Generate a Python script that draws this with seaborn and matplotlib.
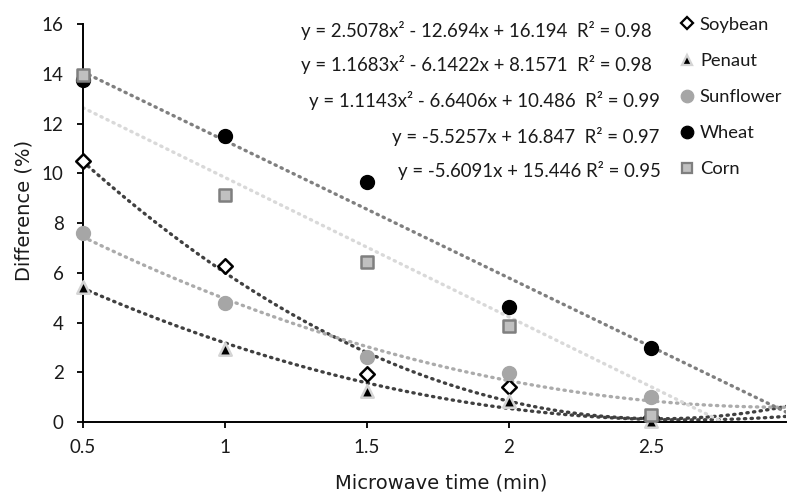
import numpy as np
import matplotlib
matplotlib.use("Agg")
import matplotlib.pyplot as plt
from matplotlib.lines import Line2D
import seaborn as sns

# ---------------------------------------------------------------------------
# Data
# ---------------------------------------------------------------------------
TIME = [0.5, 1.0, 1.5, 2.0, 2.5]
SOYBEAN = [10.5, 6.27, 1.92, 1.40, 0.20]
PENAUT = [5.45, 2.94, 1.26, 0.85, 0.05]
SUNFLOWER = [7.59, 4.77, 2.63, 1.96, 1.02]
WHEAT = [13.75, 11.52, 9.67, 4.61, 2.96]
CORN = [13.95, 9.13, 6.45, 3.86, 0.30]

# trendline coefficients as printed on the chart (highest power first)
SOYBEAN_FIT = [2.5078, -12.694, 16.194]
PENAUT_FIT = [1.1683, -6.1422, 8.1571]
SUNFLOWER_FIT = [1.1143, -6.6406, 10.486]
WHEAT_FIT = [-5.5257, 16.847]
CORN_FIT = [-5.6091, 15.446]

EQUATIONS = [
    "y = 2.5078x² - 12.694x + 16.194  R² = 0.98",
    "y = 1.1683x² - 6.1422x + 8.1571  R² = 0.98",
    "y = 1.1143x² - 6.6406x + 10.486  R² = 0.99",
    "y = -5.5257x + 16.847  R² = 0.97",
    "y = -5.6091x + 15.446 R² = 0.95",
]

X_TICKS = [0.5, 1, 1.5, 2, 2.5]
X_TICK_LABELS = ["0.5", "1", "1.5", "2", "2.5"]
Y_TICKS = [0, 2, 4, 6, 8, 10, 12, 14, 16]

sns.set_theme(style="white")
plt.rcParams["font.family"] = ["Lato", "DejaVu Sans"]

W, H = 787, 495
fig = plt.figure(figsize=(W / 100, H / 100), dpi=100)
ax = fig.add_axes([83 / W, 1 - 422 / H, (785.7 - 83) / W, (422 - 24.3) / H])

series = [
    # name, values, fit, marker, size, face, edge, edge width, legend size, line colour
    ("Soybean", SOYBEAN, SOYBEAN_FIT, "D", 55, "white", "black", 1.8, 6.5, "#404040"),
    ("Penaut", PENAUT, PENAUT_FIT, "^", 80, "black", "#d4d4d4", 1.8, 7.0, "#404040"),
    ("Sunflower", SUNFLOWER, SUNFLOWER_FIT, "o", 100, "#a6a6a6", "#a6a6a6", 1.0, 9.0, "#ababab"),
    ("Wheat", WHEAT, WHEAT_FIT, "o", 100, "black", "black", 1.0, 9.0, "#7f7f7f"),
    ("Corn", CORN, CORN_FIT, "s", 80, "#c0c0c0", "#7f7f7f", 1.8, 7.5, "#d9d9d9"),
]

x_fit = np.linspace(0.5, 3.0, 300)
for name, vals, fit, marker, size, face, edge, ew, lsz, lcol in series:
    ax.plot(x_fit, np.polyval(fit, x_fit), color=lcol, lw=2.4,
            linestyle=(0, (0.4, 1.6)), dash_capstyle="round", zorder=2)

handles = []
for name, vals, fit, marker, size, face, edge, ew, lsz, lcol in series:
    sns.scatterplot(x=TIME, y=vals, ax=ax, marker=marker, s=size,
                    color=face, edgecolor=edge, linewidth=ew, zorder=3,
                    clip_on=False)
    handles.append(Line2D([], [], linestyle="none", marker=marker,
                          markersize=lsz, markerfacecolor=face,
                          markeredgecolor=edge, markeredgewidth=ew * 0.9,
                          label=name))

ax.set_xlim(0.5, 2.975)
ax.set_ylim(0, 16)
ax.set_xticks(X_TICKS)
ax.set_xticklabels(X_TICK_LABELS)
ax.set_yticks(Y_TICKS)
ax.tick_params(axis="both", direction="out", length=4.5, width=1.3,
               color="black", labelsize=13.5, labelcolor="#1a1a1a",
               bottom=True, left=True)
ax.tick_params(axis="y", pad=9.5)
ax.tick_params(axis="x", pad=7.5)

for side in ("top", "right"):
    ax.spines[side].set_visible(False)
for side in ("left", "bottom"):
    ax.spines[side].set_color("black")
    ax.spines[side].set_linewidth(1.4)

ax.set_xlabel("Microwave time (min)", fontsize=14, color="#1a1a1a",
              family="DejaVu Sans")
ax.set_ylabel("Difference (%)", fontsize=14, color="#1a1a1a",
              family="DejaVu Sans")
ax.xaxis.set_label_coords((441 - 83) / 703, (422 - 474) / 398)
ax.yaxis.set_label_coords((33 - 83) / 703, (422 - 210) / 398)

eq_y = [30, 65, 101, 136, 171]
eq_x = [652, 652, 660, 659, 661]
for txt, ex, ey in zip(EQUATIONS, eq_x, eq_y):
    fig.text(ex / W, 1 - ey / H, txt, ha="right", va="center",
             fontsize=13.4, color="#1a1a1a")

leg = fig.legend(handles=handles, loc="upper left",
                 bbox_to_anchor=(666 / W, 1 - 4 / H), frameon=False,
                 fontsize=13.2, handletextpad=0.25, labelspacing=1.1,
                 handlelength=0.9, borderpad=0.2)
for t in leg.get_texts():
    t.set_color("#1a1a1a")

fig.savefig("out.png", dpi=100)
